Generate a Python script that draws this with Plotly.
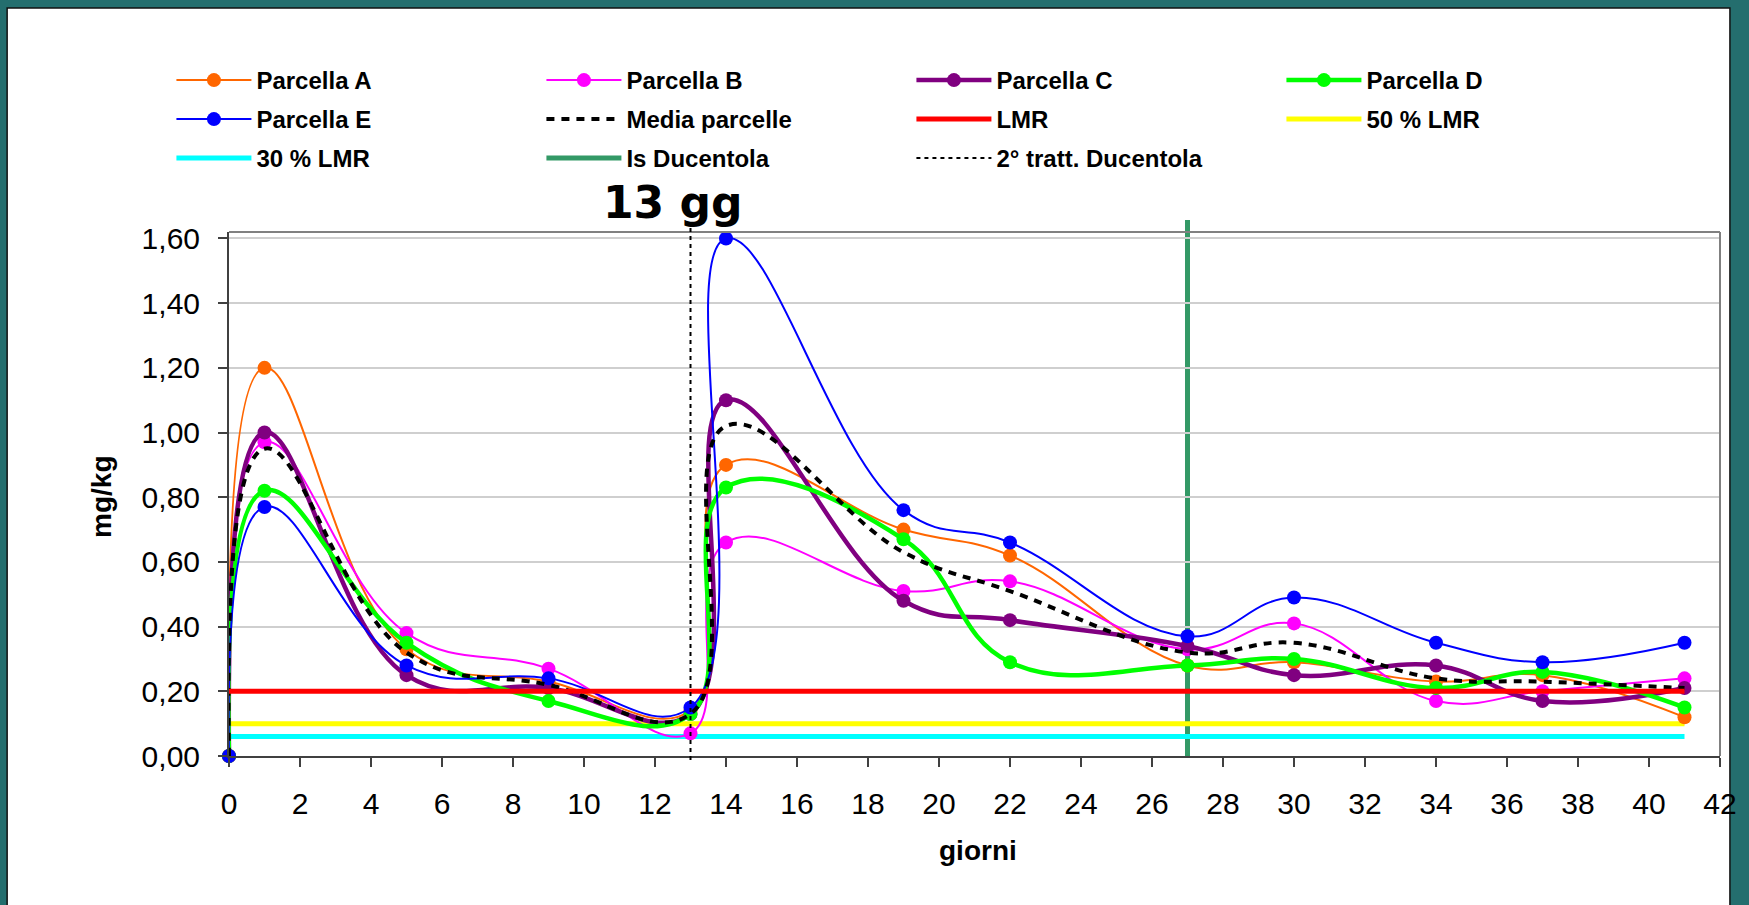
import plotly.graph_objects as go

# giorni di campionamento
days = [0, 1, 5, 9, 13, 14, 19, 22, 27, 30, 34, 37, 41]

# residui (mg/kg) per parcella
parcella_a = [0.00, 1.20, 0.33, 0.23, 0.14, 0.90, 0.70, 0.62, 0.28, 0.29, 0.23, 0.25, 0.12]
parcella_b = [0.00, 0.97, 0.38, 0.27, 0.07, 0.66, 0.51, 0.54, 0.33, 0.41, 0.17, 0.20, 0.24]
parcella_c = [0.00, 1.00, 0.25, 0.21, 0.13, 1.10, 0.48, 0.42, 0.34, 0.25, 0.28, 0.17, 0.21]
parcella_d = [0.00, 0.82, 0.35, 0.17, 0.13, 0.83, 0.67, 0.29, 0.28, 0.30, 0.21, 0.26, 0.15]
parcella_e = [0.00, 0.77, 0.28, 0.24, 0.15, 1.60, 0.76, 0.66, 0.37, 0.49, 0.35, 0.29, 0.35]
media_parcelle = [0.00, 0.95, 0.32, 0.22, 0.13, 1.02, 0.63, 0.51, 0.32, 0.35, 0.24, 0.23, 0.21]

# limiti
limit_x = [0, 41]
lmr = [0.20, 0.20]
lmr_50 = [0.10, 0.10]
lmr_30 = [0.06, 0.06]

# trattamenti
ducentola_day = 27
tratt2_day = 13

W, H = 1749, 905
ML, MR, MT, MB = 229, 18, 232, 149
PW = W - ML - MR
PH = H - MT - MB


def px_x(p):
    return (p - ML) / PW


def px_y(p):
    return (H - MB - p) / PH


FONT = "Liberation Sans, Arial, sans-serif"
SMOOTH = 1.2

fig = go.Figure()

# reference lines (drawn first, below the series)
fig.add_trace(go.Scatter(x=limit_x, y=lmr_30, mode="lines", name="30 % LMR",
                         line=dict(color="#00FFFF", width=5), legend="legend3", legendrank=1))
fig.add_trace(go.Scatter(x=limit_x, y=lmr_50, mode="lines", name="50 % LMR",
                         line=dict(color="#FFFF00", width=5), legend="legend2", legendrank=4))

series = [
    ("Parcella A", parcella_a, "#FF6600", 2, "legend", 1),
    ("Parcella B", parcella_b, "#FF00FF", 2, "legend", 2),
    ("Parcella C", parcella_c, "#800080", 4.5, "legend", 3),
    ("Parcella D", parcella_d, "#00FF00", 4.5, "legend", 4),
    ("Parcella E", parcella_e, "#0000FF", 2, "legend2", 1),
]
for name, vals, col, lw, leg, rank in series:
    fig.add_trace(go.Scatter(x=days, y=vals, mode="lines+markers", name=name,
                             line=dict(color=col, width=lw, shape="spline", smoothing=SMOOTH),
                             marker=dict(color=col, size=14, symbol="circle"),
                             cliponaxis=False, legend=leg, legendrank=rank))

fig.add_trace(go.Scatter(x=days, y=media_parcelle, mode="lines", name="Media parcelle",
                         line=dict(color="black", width=4, dash="8px,7px", shape="spline", smoothing=SMOOTH),
                         legend="legend2", legendrank=2))
fig.add_trace(go.Scatter(x=limit_x, y=lmr, mode="lines", name="LMR",
                         line=dict(color="#FF0000", width=5), legend="legend2", legendrank=3))

# legend entries for the vertical lines (drawn as shapes)
fig.add_trace(go.Scatter(x=[None], y=[None], mode="lines", name="Is Ducentola",
                         line=dict(color="#339966", width=5), legend="legend3", legendrank=2))
fig.add_trace(go.Scatter(x=[None], y=[None], mode="lines", name="2° tratt. Ducentola",
                         line=dict(color="black", width=2, dash="4px,4px"), legend="legend3", legendrank=3))

shapes = [
    # white slide area with teal frame around
    dict(type="rect", xref="paper", yref="paper", layer="below",
         x0=px_x(5.5), x1=px_x(1741), y0=px_y(912), y1=px_y(8),
         fillcolor="white", line=dict(color="#111111", width=1.5)),
    # plot frame top / right
    dict(type="line", xref="paper", yref="paper", x0=0, x1=1, y0=1, y1=1,
         line=dict(color="#808080", width=2)),
    dict(type="line", xref="paper", yref="paper", x0=1, x1=1, y0=0, y1=1,
         line=dict(color="#808080", width=2)),
    # vertical treatment lines
    dict(type="line", xref="x", yref="paper", x0=ducentola_day, x1=ducentola_day,
         y0=0, y1=px_y(220), line=dict(color="#339966", width=5), layer="below"),
    dict(type="line", xref="x", yref="paper", x0=tratt2_day, x1=tratt2_day,
         y0=px_y(760), y1=px_y(222), line=dict(color="black", width=2, dash="4px,4px")),
]

annotations = [
    dict(text="13 gg", xref="paper", yref="paper", x=px_x(676), y=px_y(203),
         xanchor="center", yanchor="middle", showarrow=False,
         font=dict(family="DejaVu Sans", size=44, color="black", weight="bold")),
    dict(text="mg/kg", xref="paper", yref="paper", x=px_x(100), y=px_y(497),
         xanchor="center", yanchor="middle", showarrow=False, textangle=-90,
         font=dict(family=FONT, size=28, color="black", weight="bold")),
    dict(text="giorni", xref="paper", yref="paper", x=px_x(984), y=px_y(850),
         xanchor="center", yanchor="middle", showarrow=False,
         font=dict(family=FONT, size=28, color="black", weight="bold")),
]

legend_style = dict(orientation="h", xanchor="left", yanchor="top",
                    entrywidth=280, entrywidthmode="pixels", itemwidth=75,
                    font=dict(family=FONT, size=24, color="black", weight="bold"),
                    bgcolor="rgba(0,0,0,0)", traceorder="normal")

fig.update_layout(
    width=W, height=H,
    margin=dict(l=ML, r=MR, t=MT, b=MB),
    paper_bgcolor="#246E6E",
    plot_bgcolor="white",
    separators=",.",
    showlegend=True,
    legend=dict(x=px_x(171), y=px_y(58), **legend_style),
    legend2=dict(x=px_x(171), y=px_y(97), **legend_style),
    legend3=dict(x=px_x(171), y=px_y(136), **legend_style),
    xaxis=dict(range=[0, 42], tick0=0, dtick=2, showgrid=False, zeroline=False,
               showline=True, linecolor="#404040", linewidth=2,
               ticks="outside", ticklen=9, tickwidth=2, tickcolor="#404040",
               ticklabelstandoff=11,
               tickfont=dict(family=FONT, size=30, color="black")),
    yaxis=dict(range=[0, 1.62], tick0=0, dtick=0.2, tickformat=".2f",
               showgrid=True, gridcolor="#CFCFCF", gridwidth=1.5, zeroline=False,
               showline=True, linecolor="#404040", linewidth=2,
               ticks="outside", ticklen=9, tickwidth=2, tickcolor="#404040",
               ticklabelstandoff=12,
               tickfont=dict(family=FONT, size=30, color="black")),
    shapes=shapes,
    annotations=annotations,
)

fig.write_html("out.html", config={"displayModeBar": False},
               post_script="document.body.style.margin='0';document.body.style.overflow='hidden';")
